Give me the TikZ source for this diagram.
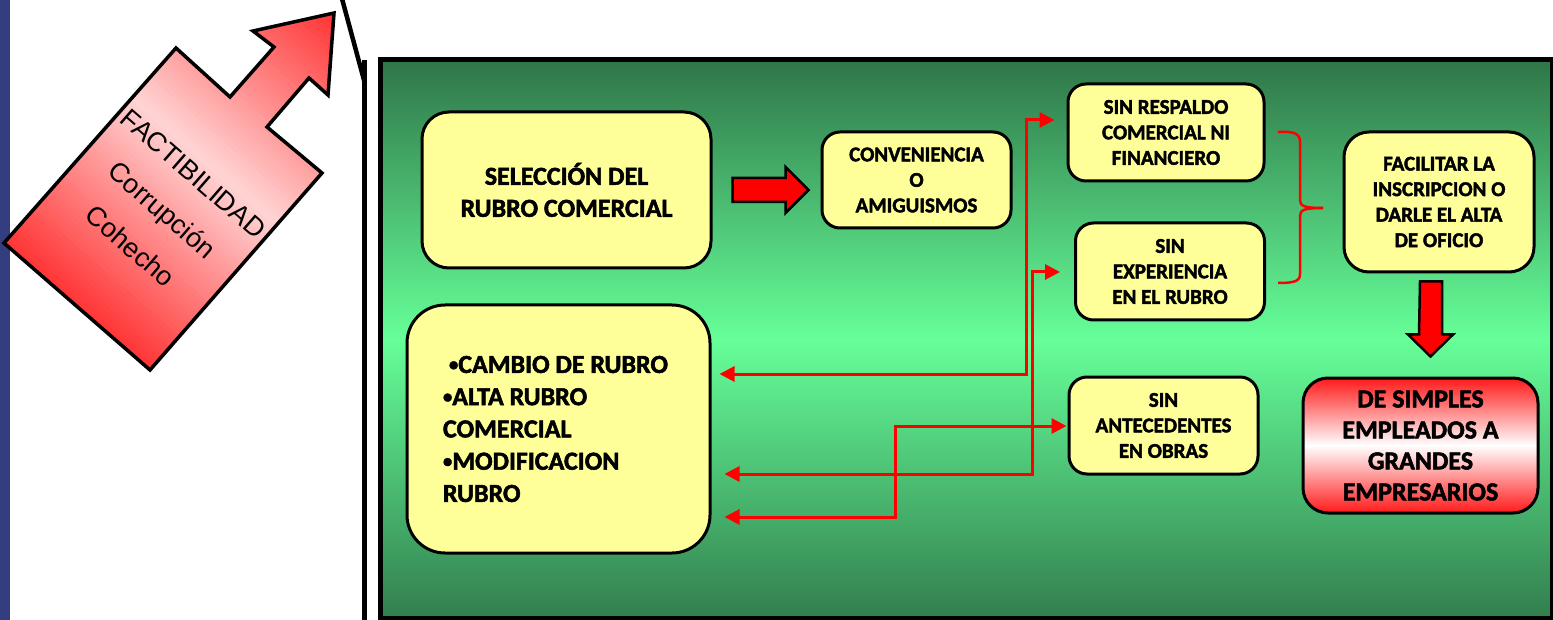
\documentclass[tikz,border=0pt]{standalone}
\usepackage{fontspec}
\newfontfamily\carlito{Carlito}[BoldFeatures={FakeBold=2}]
\newfontfamily\arialf{Liberation Sans}
\usetikzlibrary{arrows.meta,calc}
\definecolor{yb}{RGB}{255,255,153}
\definecolor{stripblue}{RGB}{51,61,128}
\definecolor{gdark}{RGB}{47,117,72}
\definecolor{gdarkb}{RGB}{50,126,78}
\definecolor{glight}{RGB}{102,255,153}
\definecolor{redA}{RGB}{255,50,50}
\definecolor{pinkA}{RGB}{255,212,212}
\definecolor{rbox}{RGB}{255,25,25}
\newcommand\mybul{\raisebox{0.09em}{\scalebox{0.72}{•}}}
\begin{document}
\begin{tikzpicture}[x=1pt,y=-1pt,
  box/.style={draw=black, line width=3pt, fill=yb, rounded corners=22pt, inner sep=0pt, align=center,
    font={\carlito\bfseries\fontsize{21}{25.5}\selectfont}},
  conn/.style={draw=red, line width=3pt, {Triangle[length=15pt,width=15pt]}-{Triangle[length=15pt,width=15pt]}},
  blockarrow/.style={draw=black, line width=2.5pt, fill=red, line join=miter},
  bracket/.style={draw=red, line width=2.5pt}]
\useasboundingbox (0,0) rectangle (1553,620);
\fill[white] (0,0) rectangle (1553,620);
% left strip
\fill[stripblue] (0,0) rectangle (10,620);
% callout lines
\draw[line width=4.5pt] (341,-5) -- (364.5,82);
\draw[line width=5pt] (364.5,60) -- (364.5,625);
% green panel
\fill[top color=gdark, bottom color=gdarkb, middle color=glight] (380.5,59.5) rectangle (1552,618.5);
\draw[line width=5pt] (380.5,59.5) rectangle (1552,618.5);
% big red arrow
\begin{scope}
  \clip (334,13) -- (253,31) -- (274,47) -- (230,97) -- (176,48) -- (4,243) -- (150,370) -- (322,173) -- (267,127) -- (309,78) -- (328,95) -- cycle;
  \foreach \i in {0,...,79} {
    \pgfmathsetmacro\ta{-152+\i*5}
    \pgfmathsetmacro\tb{\ta+6}
    \pgfmathsetmacro\p{min(100,abs(\ta+2.5-47)/197*100)}
    \fill[redA!\p!pinkA] ({169+0.659*\ta-0.752*300},{191-0.752*\ta-0.659*300}) --
      ({169+0.659*\tb-0.752*300},{191-0.752*\tb-0.659*300}) --
      ({169+0.659*\tb+0.752*300},{191-0.752*\tb+0.659*300}) --
      ({169+0.659*\ta+0.752*300},{191-0.752*\ta+0.659*300}) -- cycle;
  }
\end{scope}
\draw[line width=3.5pt, line join=miter] (334,13) -- (253,31) -- (274,47) -- (230,97) -- (176,48) -- (4,243) -- (150,370) -- (322,173) -- (267,127) -- (309,78) -- (328,95) -- cycle;
\node[rotate=-41, align=center, inner sep=0pt, font={\arialf\fontsize{27}{48}\selectfont}] (fact) at (162,210) {FACTIBILIDAD\\Corrupción\\Cohecho};
% boxes
\node[box, minimum width=289, minimum height=156, rounded corners=27pt, font={\carlito\bfseries\fontsize{26}{32}\selectfont}] (sel) at (566.5,190) {SELECCIÓN DEL\\RUBRO COMERCIAL};
\node[box, minimum width=189, minimum height=96, rounded corners=18pt] (conv) at (916.5,180) {CONVENIENCIA\\O\\AMIGUISMOS};
\node[box, minimum width=196, minimum height=97, rounded corners=18pt] (resp) at (1166,132.5) {SIN RESPALDO\\COMERCIAL NI\\FINANCIERO};
\node[box, minimum width=189, minimum height=97, rounded corners=18pt] (exp) at (1170,271.5) {SIN\\EXPERIENCIA\\EN EL RUBRO};
\node[box, minimum width=189, minimum height=97, rounded corners=18pt] (ant) at (1163.5,425.5) {SIN\\ANTECEDENTES\\EN OBRAS};
\node[box, minimum width=190, minimum height=140, rounded corners=25pt] (fac) at (1439,202) {FACILITAR LA\\INSCRIPCION O\\DARLE EL ALTA\\DE OFICIO};
\node[box, top color=rbox, bottom color=rbox, middle color=white, minimum width=235, minimum height=135, rounded corners=25pt, font={\carlito\bfseries\fontsize{26}{31}\selectfont}] (emp) at (1420.5,445.5) {DE SIMPLES\\EMPLEADOS A\\GRANDES\\EMPRESARIOS};
\node[box, align=left, minimum width=303, minimum height=248, rounded corners=38pt, font={\carlito\bfseries\fontsize{26}{32.25}\selectfont}] (lista) at (558.5,429) {\hspace*{6pt}\mybul CAMBIO DE RUBRO\hspace*{6pt}\\\mybul ALTA RUBRO\\COMERCIAL\\\mybul MODIFICACION\\RUBRO};
% block arrows
\coordinate (ra) at ($(sel.east)+(20,0)$);
\draw[blockarrow] ($(ra)+(0,-12)$) -- ++(53,0) -- ++(0,-11) -- ++(23,23) -- ++(-23,23) -- ++(0,-11) -- ++(-53,0) -- cycle;
\coordinate (da) at ($(fac.south)+(-8,8)$);
\draw[blockarrow] ($(da)+(-11,0)$) -- ++(22,0) -- ++(0,53) -- ++(11,0) -- ++(-22.5,22) -- ++(-22.5,-22) -- ++(11,0) -- cycle;
% connectors
\draw[conn, shorten <=8pt, shorten >=12pt] (lista.east |- 0,374) -| (1026,120) -- (resp.west |- 0,120);
\draw[conn, shorten <=13pt, shorten >=14pt] (lista.east |- 0,474) -| (1032,272) -- (exp.west |- 0,272);
\draw[conn, shorten <=13pt, shorten >=1pt] (lista.east |- 0,517) -| (895,426) -- (ant.west |- 0,426);
% bracket
\coordinate (brtip) at (1323,208);
\draw[bracket] (1278,132) .. controls (1295,131) and (1300,134) .. (1300,142) -- (1300,200) .. controls (1300,206) and (1304,208) .. (brtip);
\draw[bracket] (brtip) .. controls (1304,208) and (1300,210) .. (1300,216) -- (1300,274) .. controls (1300,281) and (1295,283) .. (1278,283);
\end{tikzpicture}
\end{document}
